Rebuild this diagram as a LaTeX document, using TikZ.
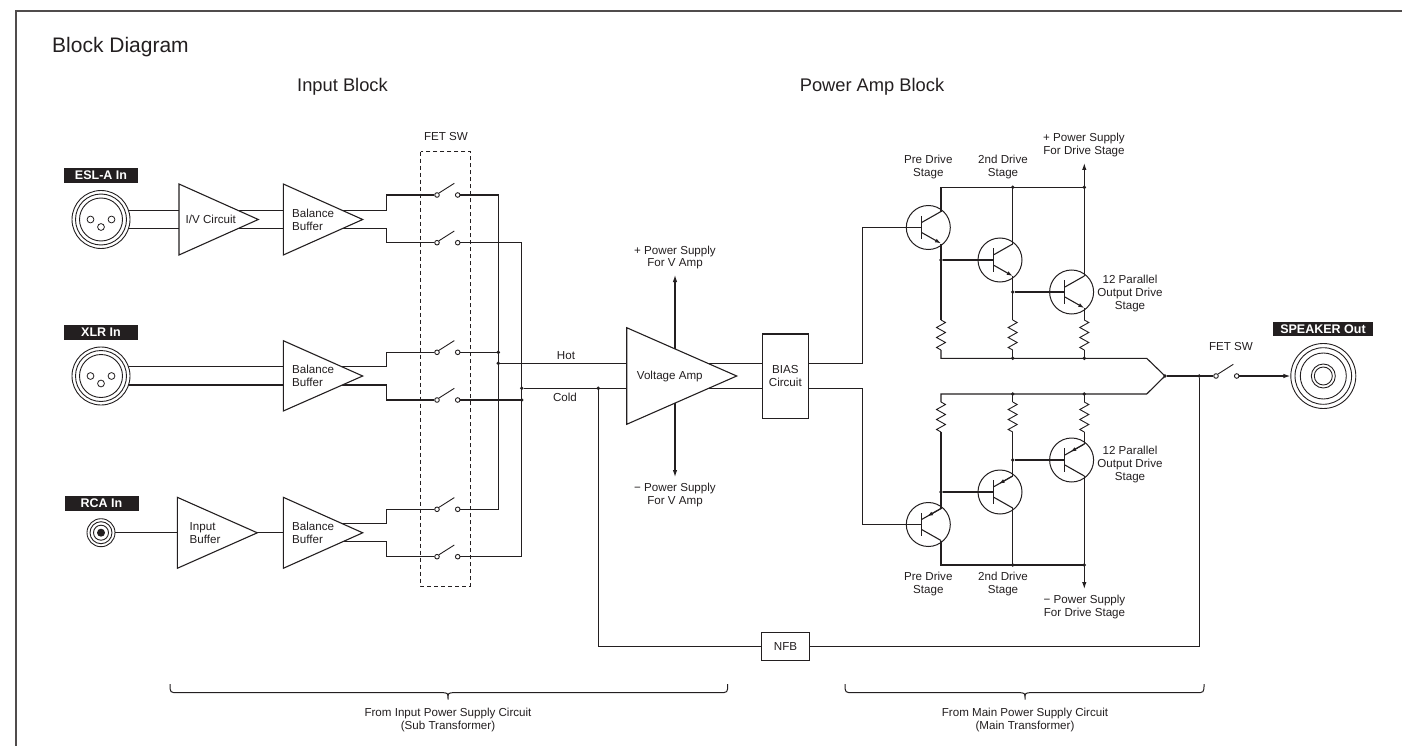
\documentclass[tikz,border=0pt]{standalone}
\usepackage{fontspec}
\setmainfont{Liberation Sans}
\usetikzlibrary{arrows.meta,calc}
\definecolor{ink}{RGB}{35,31,32}
\definecolor{framec}{RGB}{80,76,76}
\newcommand\smf{\fontsize{11.6}{13}\selectfont}
\newcommand\fetsw[3]{%
  \node[contact] (#1l) at (#2,#3) {};
  \node[contact] (#1r) at (#2+20.7,#3) {};
  \draw[wire, line width=0.9pt] (#1l.north east) -- (#2+17.3,#3-11.7);
}
\newcommand\qnpn[3]{%
  \node[qcirc] (#1) at (#2,#3) {};
  \draw[wire] (#2-6.7,#3-11.7) -- (#2-6.7,#3+11.7);
  \draw[wire] (#2+12.7,#3-16) -- (#2-6.7,#3-5);
  \draw[wire,earr] (#2-6.7,#3+5) -- (#2+12.7,#3+16);
}
\newcommand\qpnp[3]{%
  \node[qcirc] (#1) at (#2,#3) {};
  \draw[wire] (#2-6.7,#3-11.7) -- (#2-6.7,#3+11.7);
  \draw[wire] (#2+12.7,#3-16) -- (#2-6.7,#3-5);
  \draw[wire,earr] (#2+12.7,#3-16) -- ($(#2+12.7,#3-16)!0.72!(#2-6.7,#3-5)$);
  \draw[wire] (#2-6.7,#3+5) -- (#2+12.7,#3+16);
}
\begin{document}
\begin{tikzpicture}[x=1pt,y=-1pt,
  wire/.style={draw=ink, line width=1.1pt},
  tri/.style={draw=ink, line width=1.1pt, fill=white, line join=miter},
  lbl/.style={font=\smf, text=ink, inner sep=0, align=center},
  tag/.style={fill=ink, text=white, font=\fontsize{12.5}{14}\selectfont\bfseries, inner sep=0, minimum width=74pt, minimum height=15pt},
  dot/.style={circle, fill=ink, inner sep=0, minimum size=3.8pt},
  contact/.style={circle, draw=ink, fill=white, line width=0.9pt, inner sep=0, minimum size=4.6pt},
  qcirc/.style={circle, draw=ink, line width=1pt, inner sep=0, minimum size=44pt},
  arr/.style={-{Latex[length=7pt,width=4.5pt]}},
  earr/.style={-{Latex[length=6pt,width=4pt]}},
  box/.style={draw=ink, line width=1.1pt, fill=white, inner sep=0, font=\smf, text=ink, align=center},
  ring/.style={draw=ink, line width=0.9pt},
  resistor/.pic={\draw[wire, line width=0.9pt] (0,0) -- (4.5,2.5) -- (-4.5,7.5) -- (4.5,12.5) -- (-4.5,17.5) -- (4.5,22.5) -- (-4.5,27.5) -- (0,30);},
]
\useasboundingbox (0,0) rectangle (1402,746);
% frame
\draw[framec, line width=1.3pt] (16,746) -- (16,11) -- (1402,11);
% titles
\node[anchor=base west, inner sep=0, text=ink, font=\fontsize{21}{25}\selectfont] (title) at (52,52.7) {Block Diagram};
\node[anchor=base, inner sep=0, text=ink, font=\fontsize{18.3}{22}\selectfont] (hin) at (342.5,91.7) {Input Block};
\node[anchor=base, inner sep=0, text=ink, font=\fontsize{18.3}{22}\selectfont] (hpa) at (872,91.7) {Power Amp Block};

% ---------- switches ----------
\draw[ink, line width=0.9pt, dash pattern=on 4pt off 3pt] (420.7,151.7) rectangle (470.7,586);
\node[lbl] (fetsw) at (446,137) {FET SW};
\fetsw{sa}{437}{195}
\fetsw{sb}{437}{242.7}
\fetsw{sc}{437}{352.3}
\fetsw{sd}{437}{400}
\fetsw{se}{437}{509.3}
\fetsw{sf}{437}{556.7}

% ---------- input wires ----------
\draw[wire] (101,210.3) -- (386.7,210.3) -- (386.7,195) -- (sal);
\draw[wire] (101,228.7) -- (386.7,228.7) -- (386.7,242.7) -- (sbl);
\draw[wire] (101,366.7) -- (386.7,366.7) -- (386.7,352.3) -- (scl);
\draw[wire] (101,385) -- (386.7,385) -- (386.7,400) -- (sdl);
\draw[wire] (101,532.7) -- (283.3,532.7);
\draw[wire] (300,523.3) -- (386.7,523.3) -- (386.7,509.3) -- (sel);
\draw[wire] (300,541.7) -- (386.7,541.7) -- (386.7,556.7) -- (sfl);
% buses
\draw[wire] (sar) -- (498.3,195) -- (498.3,509.3) -- (ser);
\draw[wire] (scr) -- (498.3,352.3);
\draw[wire] (sbr) -- (521.7,242.7) -- (521.7,556.7) -- (sfr);
\draw[wire] (sdr) -- (521.7,400);
\node[dot] (d1) at (498.3,352.3) {};
\node[dot] (dhot) at (498.3,363.3) {};
\node[dot] (dcold) at (521.7,388.3) {};
\node[dot] (d4) at (521.7,400) {};
\draw[wire] (dhot) -- (762.3,363.3);
\draw[wire] (dcold) -- (762.3,388.3);
\node[dot] (dnfb) at (598.3,388.3) {};
\node[lbl] (hot) at (566,356) {Hot};
\node[lbl] (cold) at (565,397) {Cold};

% ---------- jacks ----------
\node[circle, draw=ink, fill=white, line width=0.9pt, minimum size=58pt, inner sep=0] (jesl) at (101,219.5) {};
\draw[ring] (jesl.center) circle[radius=25.5] (jesl.center) circle[radius=21.5];
\foreach \dx/\dy in {-10.5/0,0/7.5,10.5/0} \draw[ring, line width=0.8pt] ($(jesl.center)+(\dx,\dy)$) circle[radius=3.4];
\node[tag] (tesl) at (101,175.5) {ESL-A In};

\node[circle, draw=ink, fill=white, line width=0.9pt, minimum size=58pt, inner sep=0] (jxlr) at (101,376) {};
\draw[ring] (jxlr.center) circle[radius=25.5] (jxlr.center) circle[radius=21.5];
\foreach \dx/\dy in {-10.5/0,0/7.5,10.5/0} \draw[ring, line width=0.8pt] ($(jxlr.center)+(\dx,\dy)$) circle[radius=3.4];
\node[tag] (txlr) at (101,332.5) {XLR In};

\node[circle, draw=ink, fill=white, line width=0.9pt, minimum size=28pt, inner sep=0] (jrca) at (101,532.7) {};
\draw[ring] (jrca.center) circle[radius=11] (jrca.center) circle[radius=7.5];
\fill[ink] (jrca.center) circle[radius=4];
\node[tag] (trca) at (101.5,503.3) {RCA In};

% ---------- input amplifiers ----------
\draw[tri] (179,184) coordinate (iv) -- (258.3,219.5) -- (179,255) -- cycle;
\draw[tri] (283.3,184) coordinate (bb1) -- (362.7,219.5) -- (283.3,255) -- cycle;
\draw[tri] (283.3,340.7) coordinate (bb2) -- (362.7,376) -- (283.3,411) -- cycle;
\draw[tri] (177.3,497.3) coordinate (ib) -- (257.3,532.8) -- (177.3,568.3) -- cycle;
\draw[tri] (283.3,497.3) coordinate (bb3) -- (362.7,532.8) -- (283.3,568.3) -- cycle;
\node[lbl, anchor=west] (tiv) at (185.5,219.5) {I/V Circuit};
\node[lbl, anchor=west, align=left] (tbb1) at (292,219.5) {Balance\\Buffer};
\node[lbl, anchor=west, align=left] (tbb2) at (292,376) {Balance\\Buffer};
\node[lbl, anchor=west, align=left] (tib) at (189.5,532.8) {Input\\Buffer};
\node[lbl, anchor=west, align=left] (tbb3) at (292,532.8) {Balance\\Buffer};

% ---------- voltage amp ----------
\draw[wire, arr] (675,349) -- (675,275);
\draw[wire, arr] (675,403) -- (675,477);
\draw[tri] (626.7,327.7) coordinate (va) -- (736.7,376) -- (626.7,424.3) -- cycle;
\node[lbl, anchor=west] (tva) at (636.7,376) {Voltage Amp};
\node[lbl] (pva) at (675,257.5) {+ Power Supply\\For V Amp};
\node[lbl] (mva) at (675,495) {− Power Supply\\For V Amp};
\node[box, minimum width=46pt, minimum height=84.3pt] (bias) at (785.3,376.15) {BIAS\\Circuit};

% NFB
\node[box, minimum width=47.6pt, minimum height=27.7pt] (nfb) at (785.5,646.7) {NFB};
\draw[wire] (dnfb) -- (598.3,646.7) -- (nfb.west);

% ---------- output stage ----------
\draw[wire] (808.3,363.3) -- (862.7,363.3) -- (862.7,227.5) -- (921.6,227.5);
\draw[wire] (808.3,388.3) -- (862.7,388.3) -- (862.7,524.5) -- (921.6,524.5);
% top half
\qnpn{q1}{928.3}{227.5}
\qnpn{q2}{1000}{260}
\qnpn{q3}{1071.6}{292}
\draw[wire] (941,211.5) -- (941,187.3) -- (1084.3,187.3);
\draw[wire, arr] (1084.3,187.3) -- (1084.3,163);
\draw[wire] (1012.7,187.3) -- (1012.7,244);
\draw[wire] (1084.3,187.3) -- (1084.3,276);
\draw[wire] (941,243.5) -- (941,320);
\draw[wire] (1012.7,276) -- (1012.7,320);
\draw[wire] (1084.3,308) -- (1084.3,320);
\pic at (941,320) {resistor};
\pic at (1012.7,320) {resistor};
\pic at (1084.3,320) {resistor};
\node[dot] (e1) at (941,260) {};
\node[dot] (e2) at (1012.7,292) {};
\draw[wire] (e1) -- (993.3,260);
\draw[wire] (e2) -- (1064.9,292);
\draw[wire] (941,350) -- (941,358.3) -- (1146.7,358.3) -- (1165,376) -- (1146.7,394) -- (941,394) -- (941,402);
\draw[wire] (1012.7,350) -- (1012.7,358.3) (1084.3,350) -- (1084.3,358.3);
\draw[wire] (1012.7,394) -- (1012.7,402) (1084.3,394) -- (1084.3,402);
\node[dot] at (1012.7,187.3) {};
\node[dot] at (1084.3,187.3) {};
\node[dot] at (1012.7,358.3) {};
\node[dot] at (1084.3,358.3) {};
\node[dot] at (1012.7,394) {};
\node[dot] at (1084.3,394) {};
% bottom half
\pic at (941,402) {resistor};
\pic at (1012.7,402) {resistor};
\pic at (1084.3,402) {resistor};
\qpnp{q4}{928.3}{524.5}
\qpnp{q5}{1000}{492}
\qpnp{q6}{1071.6}{460}
\draw[wire] (941,432) -- (941,508.5);
\draw[wire] (1012.7,432) -- (1012.7,476);
\draw[wire] (1084.3,432) -- (1084.3,444);
\draw[wire] (941,540.5) -- (941,565) -- (1084.3,565);
\draw[wire] (1012.7,508) -- (1012.7,565);
\draw[wire] (1084.3,476) -- (1084.3,565);
\draw[wire, arr] (1084.3,565) -- (1084.3,589);
\node[dot] at (1012.7,565) {};
\node[dot] at (1084.3,565) {};
\node[dot] (e4) at (941,492) {};
\node[dot] (e5) at (1012.7,460) {};
\draw[wire] (e4) -- (993.3,492);
\draw[wire] (e5) -- (1064.9,460);
% labels
\node[lbl] (lpd1) at (928.3,167.5) {Pre Drive\\Stage};
\node[lbl] (l2d1) at (1003,167.5) {2nd Drive\\Stage};
\node[lbl] (lps1) at (1084,145) {+ Power Supply\\For Drive Stage};
\node[lbl] (lop1) at (1130,293) {12 Parallel\\Output Drive\\Stage};
\node[lbl] (lpd2) at (928.3,583.7) {Pre Drive\\Stage};
\node[lbl] (l2d2) at (1003,583.7) {2nd Drive\\Stage};
\node[lbl] (lps2) at (1084.5,607) {− Power Supply\\For Drive Stage};
\node[lbl] (lop2) at (1130,464.5) {12 Parallel\\Output Drive\\Stage};

% ---------- output ----------
\node[dot] (dmerge) at (1165,376) {};
\node[dot] (dfb) at (1199.3,376) {};
\fetsw{sg}{1216}{376}
\draw[wire] (dmerge) -- (sgl);
\draw[wire] (dfb) -- (1199.3,646.7) -- (nfb.east);
\node[lbl] (fetsw2) at (1231,346.7) {FET SW};
\node[circle, draw=ink, line width=0.9pt, minimum size=65pt, inner sep=0] (spk) at (1323.3,376) {};
\draw[ring] (spk.center) circle[radius=28.3] (spk.center) circle[radius=23];
\draw[ring] (spk.center) circle[radius=12] (spk.center) circle[radius=9];
\draw[wire, arr] (sgr) -- (spk);
\node[tag, minimum width=100pt, minimum height=14pt] (tspk) at (1323,329) {SPEAKER Out};

% ---------- braces ----------
\draw[ink, line width=1pt] (170,684) .. controls (170,692.7) .. (178.5,692.7) -- (441,692.7) .. controls (448,692.7) .. (448,699.5) .. controls (448,692.7) .. (455,692.7) -- (719,692.7) .. controls (727.7,692.7) .. (727.7,684);
\draw[ink, line width=1pt] (845,684) .. controls (845,692.7) .. (853.5,692.7) -- (1018,692.7) .. controls (1025,692.7) .. (1025,699.5) .. controls (1025,692.7) .. (1032,692.7) -- (1195.5,692.7) .. controls (1204,692.7) .. (1204,684);
\node[lbl] (bl) at (448,719.5) {From Input Power Supply Circuit\\(Sub Transformer)};
\node[lbl] (br) at (1025,719.5) {From Main Power Supply Circuit\\(Main Transformer)};
\end{tikzpicture}
\end{document}
